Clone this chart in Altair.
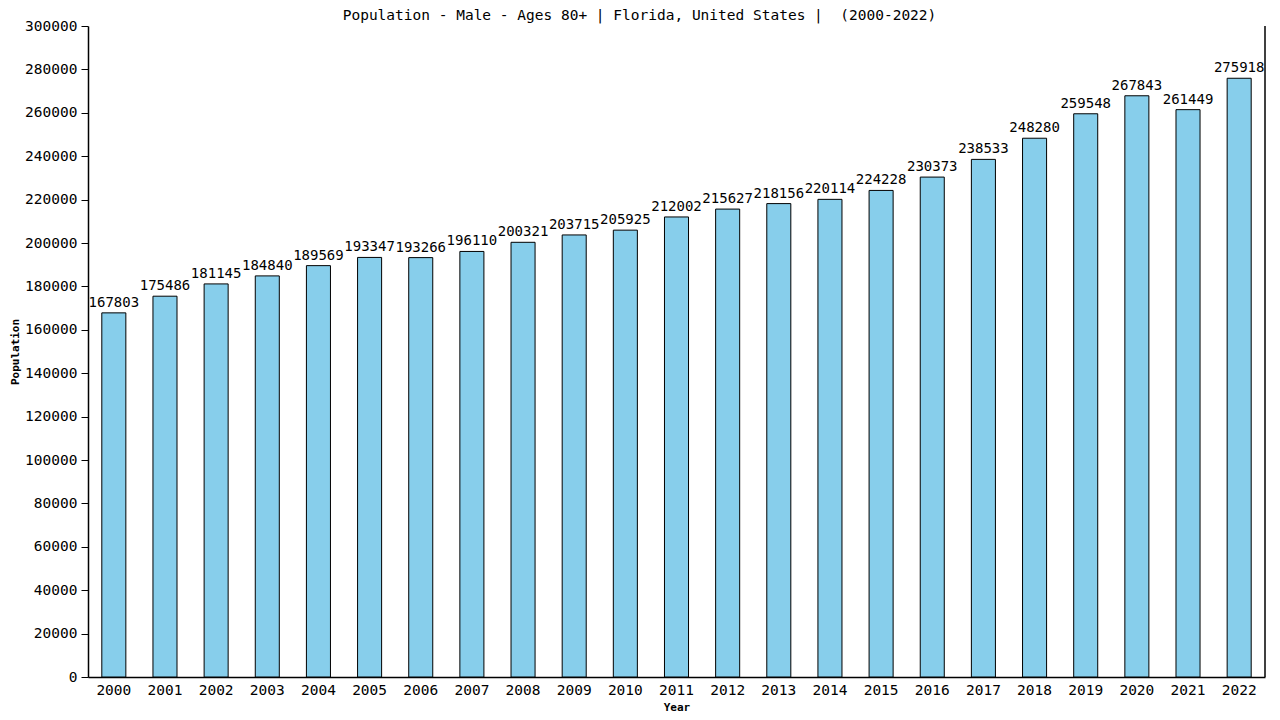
import altair as alt
import pandas as pd

years = [str(y) for y in range(2000, 2023)]
population = [167803, 175486, 181145, 184840, 189569, 193347, 193266, 196110,
              200321, 203715, 205925, 212002, 215627, 218156, 220114, 224228,
              230373, 238533, 248280, 259548, 267843, 261449, 275918]
title_text = "Population - Male - Ages 80+ | Florida, United States |\u00a0 (2000-2022)"

df = pd.DataFrame({"Year": years, "Population": population})

FONT = "DejaVu Sans Mono"
W, H = 1177, 651

base = alt.Chart(df)

bars = base.mark_bar(fill="#87CEEB", stroke="black", strokeWidth=1).encode(
    x=alt.X("Year:N", sort=years,
            scale=alt.Scale(paddingInner=0.53, paddingOuter=0.27),
            axis=alt.Axis(title="Year", labelAngle=0, ticks=False, labelPadding=6,
                          labelFont=FONT, labelFontSize=14.5, labelColor="black",
                          titleFont=FONT, titleFontSize=11, titleFontWeight="bold",
                          titleColor="black", titlePadding=5,
                          domainColor="black", domainWidth=1.5)),
    y=alt.Y("Population:Q",
            scale=alt.Scale(domain=[0, 300000], nice=False),
            axis=alt.Axis(title="Population", values=list(range(0, 300001, 20000)),
                          grid=False, format="d", tickSize=7, tickColor="black",
                          labelFont=FONT, labelFontSize=14.5, labelColor="black",
                          labelPadding=4,
                          titleFont=FONT, titleFontSize=11, titleFontWeight="bold",
                          titleColor="black", titlePadding=4,
                          domainColor="black", domainWidth=1.5)),
)

labels = base.mark_text(font=FONT, fontSize=14, color="black", baseline="bottom", dy=-3).encode(
    x=alt.X("Year:N", sort=years),
    y="Population:Q",
    text=alt.Text("Population:Q", format="d"),
)

right_line = alt.Chart(pd.DataFrame({"a": [0]})).mark_rule(color="black", strokeWidth=1.5).encode(
    x=alt.value(W), y=alt.value(0), y2=alt.value(H)
)

chart = alt.layer(bars, labels, right_line).properties(
    width=W, height=H,
    title=alt.TitleParams(title_text,
                          font=FONT, fontSize=14.5, fontWeight="normal", color="black",
                          anchor="middle", dx=-37, dy=8, offset=3),
    autosize=alt.AutoSizeParams(type="none"),
    padding={"left": 80, "top": 18, "right": 7, "bottom": 42},
).configure_view(stroke=None)

chart.save("out.html", embed_options={"renderer": "svg", "actions": False})
